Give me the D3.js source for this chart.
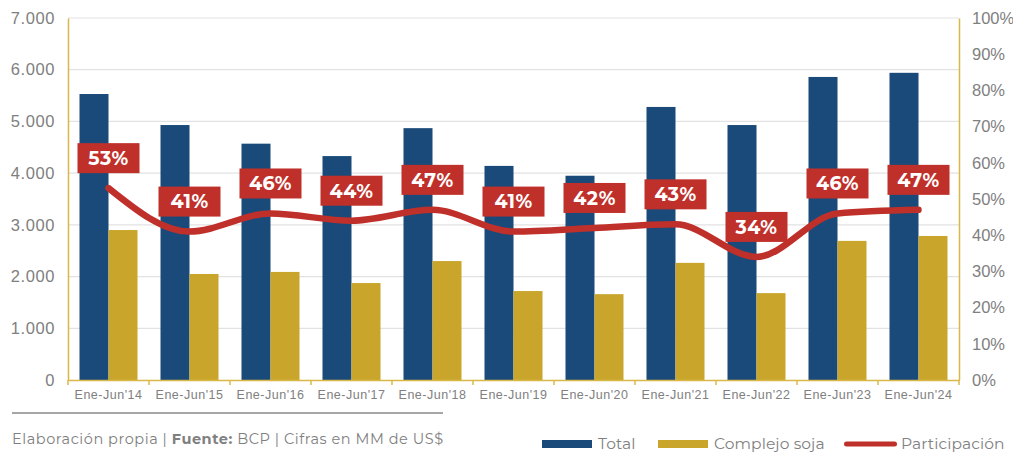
<!DOCTYPE html>
<html>
<head>
<meta charset="utf-8">
<script src="https://cdn.jsdelivr.net/npm/d3@7"></script>
<style>
  body { margin: 0; background: #fff; }
  svg { font-family: "Montserrat", "Noto Sans", "Open Sans", sans-serif; }
</style>
</head>
<body>
<div id="chart"></div>
<script>
const width = 1013, height = 454;
const margin = {top: 18, right: 54, bottom: 74, left: 68};

const categories = ["Ene-Jun'14","Ene-Jun'15","Ene-Jun'16","Ene-Jun'17","Ene-Jun'18","Ene-Jun'19","Ene-Jun'20","Ene-Jun'21","Ene-Jun'22","Ene-Jun'23","Ene-Jun'24"];
const total = [5530, 4930, 4570, 4330, 4870, 4140, 3950, 5280, 4930, 5860, 5940];
const soja = [2900, 2050, 2090, 1875, 2300, 1720, 1660, 2265, 1680, 2690, 2785];
const participacion = [53, 41, 46, 44, 47, 41, 42, 43, 34, 46, 47];
const leftTicks = [0, 1000, 2000, 3000, 4000, 5000, 6000, 7000];
const rightTicks = [0, 10, 20, 30, 40, 50, 60, 70, 80, 90, 100];

const blue = "#1a4a79", gold = "#c9a62b", red = "#c0302b", axisGold = "#d9b84a", grey = "#808080";

const svg = d3.select("#chart").append("svg")
    .attr("width", width)
    .attr("height", height);

const x = d3.scaleBand().domain(categories)
    .range([margin.left, width - margin.right]);
const y = d3.scaleLinear().domain([0, 7000]).range([height - margin.bottom, margin.top]);
const y2 = d3.scaleLinear().domain([0, 100]).range([height - margin.bottom, margin.top]);
const barW = 29;

// grid
svg.append("g").selectAll("line").data(leftTicks.slice(1)).join("line")
    .attr("x1", margin.left).attr("x2", width - margin.right)
    .attr("y1", d => y(d)).attr("y2", d => y(d))
    .attr("stroke", "#e2e2e2").attr("stroke-width", 1.2);

// left axis
const yAxis = svg.append("g")
    .attr("transform", `translate(${margin.left},0)`)
    .call(d3.axisLeft(y).tickValues(leftTicks).tickSize(0).tickPadding(13)
        .tickFormat(d => d3.format(",")(d).replace(",", ".")));
yAxis.select(".domain").attr("stroke", axisGold).attr("stroke-width", 1.5);
yAxis.selectAll("text").attr("fill", grey).attr("font-size", 16.5).attr("letter-spacing", 0.6);

// right axis
const y2Axis = svg.append("g")
    .attr("transform", `translate(${width - margin.right},0)`)
    .call(d3.axisRight(y2).tickValues(rightTicks).tickSize(0).tickPadding(13)
        .tickFormat(d => d + "%"));
y2Axis.select(".domain").attr("stroke", axisGold).attr("stroke-width", 1.5);
y2Axis.selectAll("text").attr("fill", grey).attr("font-size", 16.5);

// bars
svg.append("g").selectAll("rect").data(total).join("rect")
    .attr("x", (d, i) => x(categories[i]) + x.bandwidth() / 2 - barW)
    .attr("y", d => y(d))
    .attr("width", barW)
    .attr("height", d => y(0) - y(d))
    .attr("fill", blue);

svg.append("g").selectAll("rect").data(soja).join("rect")
    .attr("x", (d, i) => x(categories[i]) + x.bandwidth() / 2)
    .attr("y", d => y(d))
    .attr("width", barW)
    .attr("height", d => y(0) - y(d))
    .attr("fill", gold);

// bottom axis
const xAxis = svg.append("g")
    .attr("transform", `translate(0,${y(0)})`)
    .call(d3.axisBottom(x).tickSize(0).tickPadding(10));
xAxis.select(".domain").attr("stroke", axisGold).attr("stroke-width", 1.5);
xAxis.selectAll("text").attr("fill", grey).attr("font-size", 12.5).attr("letter-spacing", 0.5);
xAxis.append("g").selectAll("line")
    .data(categories.map(c => x(c)).concat([width - margin.right]))
    .join("line")
    .attr("x1", d => d).attr("x2", d => d)
    .attr("y1", 0).attr("y2", 5)
    .attr("stroke", axisGold).attr("stroke-width", 1.5);

// participation line
const line = d3.line()
    .x((d, i) => x(categories[i]) + x.bandwidth() / 2)
    .y(d => y2(d))
    .curve(d3.curveMonotoneX);

svg.append("path")
    .datum(participacion)
    .attr("d", line)
    .attr("fill", "none")
    .attr("stroke", red)
    .attr("stroke-width", 6.5)
    .attr("stroke-linecap", "round");

// labels
const lab = svg.append("g").selectAll("g").data(participacion).join("g")
    .attr("transform", (d, i) => `translate(${x(categories[i]) + x.bandwidth() / 2},${y2(d) - 30})`);
lab.append("rect")
    .attr("x", -31).attr("y", -15).attr("width", 62).attr("height", 30)
    .attr("fill", red);
lab.append("text")
    .attr("text-anchor", "middle")
    .attr("dy", "0.36em")
    .attr("fill", "#fff")
    .attr("font-size", 19)
    .attr("font-weight", "bold")
    .attr("letter-spacing", 0.5)
    .text(d => d + "%");

// source note
svg.append("line")
    .attr("x1", 12).attr("x2", 443).attr("y1", 413).attr("y2", 413)
    .attr("stroke", "#888").attr("stroke-width", 1.5);
const src = svg.append("text")
    .attr("x", 12).attr("y", 444)
    .attr("fill", grey).attr("font-size", 14.5).attr("letter-spacing", 0.55);
src.append("tspan").text("Elaboración propia | ");
src.append("tspan").attr("font-weight", "bold").text("Fuente:");
src.append("tspan").text(" BCP | Cifras en MM de US$");

// legend
const legend = [
  {name: "Total", color: blue, type: "bar", x: 542},
  {name: "Complejo soja", color: gold, type: "bar", x: 658},
  {name: "Participación", color: red, type: "line", x: 844}
];
const lg = svg.append("g").selectAll("g").data(legend).join("g")
    .attr("transform", d => `translate(${d.x},444)`);
lg.append("rect")
    .attr("x", 0).attr("y", d => d.type === "bar" ? -4 : -2.5)
    .attr("width", d => d.type === "bar" ? 50 : 53)
    .attr("height", d => d.type === "bar" ? 8 : 5)
    .attr("rx", d => d.type === "bar" ? 0 : 2.5)
    .attr("fill", d => d.color);
lg.append("text")
    .attr("x", d => d.type === "bar" ? 56 : 57)
    .attr("dy", "0.35em")
    .attr("fill", grey)
    .attr("font-size", 15.5)
    .attr("letter-spacing", 0.1)
    .text(d => d.name);
</script>
</body>
</html>
